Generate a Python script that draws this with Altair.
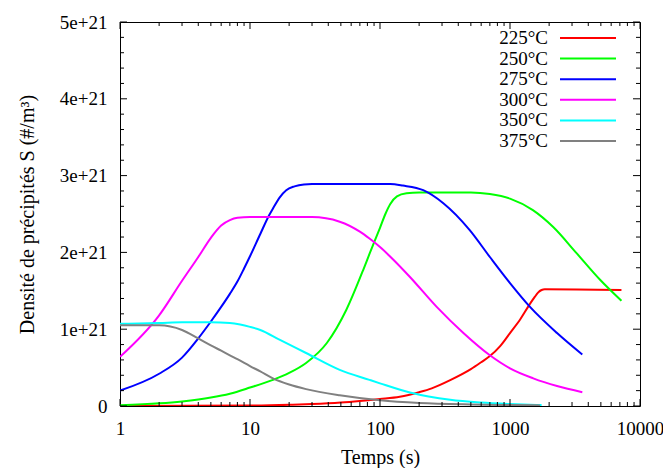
import altair as alt
import pandas as pd

temps = ["225°C", "250°C", "275°C", "300°C", "350°C", "375°C"]
colors = ["#ff0000", "#00ff00", "#0000ff", "#ff00ff", "#00ffff", "#808080"]

red_t = [1, 10, 20, 30, 50, 70, 100, 142, 200, 250, 350, 500, 600, 700, 840, 1000, 1200, 1400, 1550, 1650, 1750, 1850, 7200]
red_n = [0.0, 0.005, 0.015, 0.025, 0.045, 0.065, 0.09, 0.12, 0.18, 0.23, 0.34, 0.48, 0.57, 0.65, 0.78, 0.95, 1.13, 1.31, 1.42, 1.48, 1.51, 1.52, 1.51]

green_t = [1, 2, 3, 4, 5, 7, 10, 15, 20, 27, 39, 55, 75, 83, 100, 110, 120, 135, 160, 200, 500, 700, 1000, 1500, 2150, 3250, 4950, 7200]
green_n = [0.01, 0.035, 0.06, 0.085, 0.11, 0.16, 0.24, 0.34, 0.43, 0.56, 0.82, 1.25, 1.79, 1.98, 2.32, 2.50, 2.63, 2.73, 2.77, 2.78, 2.78, 2.76, 2.70, 2.55, 2.33, 1.99, 1.64, 1.37]

blue_t = [1, 2, 3, 4, 5, 6, 7, 8, 9, 10, 12, 14, 15, 17, 19, 22, 26, 30, 100, 120, 150, 215, 307, 490, 700, 1000, 1425, 2300, 3600]
blue_n = [0.20, 0.42, 0.63, 0.88, 1.10, 1.29, 1.46, 1.62, 1.79, 1.95, 2.24, 2.48, 2.57, 2.72, 2.81, 2.86, 2.885, 2.89, 2.89, 2.89, 2.87, 2.81, 2.64, 2.29, 1.94, 1.60, 1.29, 0.95, 0.67]

magenta_t = [1, 2, 3, 4, 5, 6, 7, 8, 10, 30, 49, 70, 83, 100, 119, 170, 273, 438, 700, 1000, 1510, 2300, 3600]
magenta_n = [0.64, 1.18, 1.63, 1.94, 2.19, 2.35, 2.42, 2.45, 2.46, 2.46, 2.40, 2.27, 2.18, 2.07, 1.95, 1.68, 1.29, 0.95, 0.66, 0.49, 0.36, 0.26, 0.18]

cyan_t = [1, 2, 3, 5, 7, 8.4, 10, 12, 17, 27, 49, 83, 100, 170, 347, 600, 1000, 1750]
cyan_n = [1.07, 1.08, 1.09, 1.09, 1.08, 1.06, 1.03, 0.99, 0.86, 0.69, 0.47, 0.34, 0.295, 0.175, 0.08, 0.045, 0.026, 0.012]

gray_t = [1, 2, 3, 4, 5, 6, 7, 8, 10, 12, 15, 20, 27, 49, 100, 200, 500, 1000, 1700]
gray_n = [1.05, 1.05, 0.99, 0.88, 0.79, 0.72, 0.66, 0.61, 0.52, 0.45, 0.36, 0.28, 0.22, 0.14, 0.075, 0.04, 0.02, 0.012, 0.008]

x_major = [1, 10, 100, 1000, 10000]
x_minor = [m * 10 ** k for k in range(4) for m in range(2, 10)]
y_major = [0, 1, 2, 3, 4, 5]
y_minor = [round(i * 0.2, 1) for i in range(26) if i % 5 != 0]

series_t = [red_t, green_t, blue_t, magenta_t, cyan_t, gray_t]
series_n = [red_n, green_n, blue_n, magenta_n, cyan_n, gray_n]
rows = []
for lab, ts, ns in zip(temps, series_t, series_n):
    rows += [{"t": t, "n": n, "temp": lab} for t, n in zip(ts, ns)]
df = pd.DataFrame(rows)

W, H = 520, 384
FONT = "Liberation Serif, Times New Roman, serif"

xscale = alt.Scale(type="log", domain=[1, 10000], nice=False)
yscale = alt.Scale(domain=[0, 5], nice=False, zero=False)

xaxis = alt.Axis(values=x_major, format="d", title="Temps (s)", ticks=False,
                 domain=False, grid=False, labelPadding=13, labelFlush=False,
                 labelOverlap=False, titleX=W / 2, titleY=51,
                 titleBaseline="middle", titleAlign="center")
yaxis = alt.Axis(values=y_major,
                 labelExpr="datum.value == 0 ? '0' : datum.value + 'e+21'",
                 title="Densité de précipités S (#/m³)", ticks=False,
                 domain=False, grid=False, labelPadding=13, labelFlush=False,
                 labelOverlap=False, titleX=-93, titleY=H / 2, titleAngle=-90,
                 titleBaseline="middle", titleAlign="center")

X = alt.X("t:Q", scale=xscale, axis=xaxis)
Y = alt.Y("n:Q", scale=yscale, axis=yaxis)

lines = alt.Chart(df).mark_line(strokeWidth=2, clip=True, interpolate="monotone").encode(
    x=X, y=Y,
    color=alt.Color("temp:N", scale=alt.Scale(domain=temps, range=colors), legend=None),
)

layers = [lines]


def xticks(vals, L):
    d = pd.DataFrame({"t": vals})
    b = alt.Chart(d).mark_rule(color="black", strokeWidth=1)
    return [b.encode(x=X, y=alt.value(H), y2=alt.value(H - L)),
            b.encode(x=X, y=alt.value(0), y2=alt.value(L))]


def yticks(vals, L):
    d = pd.DataFrame({"n": vals})
    b = alt.Chart(d).mark_rule(color="black", strokeWidth=1)
    return [b.encode(y=Y, x=alt.value(0), x2=alt.value(L)),
            b.encode(y=Y, x=alt.value(W), x2=alt.value(W - L))]


layers += xticks(x_major, 7) + xticks(x_minor, 4) + yticks(y_major, 7) + yticks(y_minor, 4)

for i, (lab, col) in enumerate(zip(temps, colors)):
    d = pd.DataFrame({"label": [lab]})
    yy = 16 + i * 20.6
    layers.append(alt.Chart(d).mark_text(align="right", baseline="middle", font=FONT,
                                         fontSize=19, color="black").encode(
        text="label:N", x=alt.value(428), y=alt.value(yy)))
    layers.append(alt.Chart(d).mark_rule(color=col, strokeWidth=2).encode(
        x=alt.value(440), x2=alt.value(496), y=alt.value(yy)))

chart = alt.layer(*layers).properties(
    width=W, height=H,
    padding={"left": 112, "top": 14, "right": 23, "bottom": 62},
    autosize=alt.AutoSizeParams(type="none"),
).configure_view(stroke="black", strokeWidth=1).configure_axis(
    labelFont=FONT, labelFontSize=19, labelColor="black",
    titleFont=FONT, titleFontSize=20, titleColor="black", titleFontWeight="normal",
)

chart.save("out.html", embed_options={"renderer": "svg", "actions": False})
